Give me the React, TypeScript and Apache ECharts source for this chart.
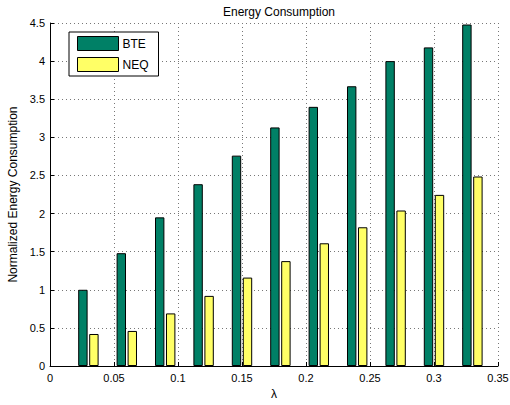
import React, { useEffect, useRef } from "react";
import * as echarts from "echarts";

const lambdas = [0.03, 0.06, 0.09, 0.12, 0.15, 0.18, 0.21, 0.24, 0.27, 0.3, 0.33];
const bte = [1.0, 1.48, 1.95, 2.385, 2.76, 3.13, 3.4, 3.67, 4.0, 4.18, 4.48];
const neq = [0.42, 0.46, 0.69, 0.92, 1.16, 1.376, 1.61, 1.82, 2.04, 2.245, 2.486];
const seriesNames = ["BTE", "NEQ"];
const FONT = "Liberation Sans, Arial, sans-serif";

export default function App() {
  const ref = useRef<HTMLDivElement>(null);
  useEffect(() => {
    const chart = echarts.init(ref.current!, null, { renderer: "svg" });
    const grid = {
      type: [1, 3] as any,
      color: "#777",
      width: 1,
    };
    chart.setOption({
      animation: false,
      backgroundColor: "#fff",
      title: {
        text: "Energy Consumption",
        left: 274,
        textAlign: "center",
        top: 1,
        textStyle: { fontFamily: FONT, fontSize: 12, fontWeight: "normal", color: "#000" },
      },
      legend: {
        orient: "vertical",
        left: 69,
        top: 32,
        padding: [4, 10, 4, 8],
        itemWidth: 41,
        itemHeight: 14,
        itemGap: 6,
        backgroundColor: "#fff",
        borderColor: "#000",
        borderWidth: 1,
        icon: "rect",
        itemStyle: { borderColor: "#000", borderWidth: 1 },
        textStyle: { fontFamily: FONT, fontSize: 12, color: "#000", padding: [0, 0, 0, -1] },
        data: seriesNames,
      },
      grid: { left: 50, right: 12, top: 23, bottom: 39, containLabel: false, outerBoundsMode: "none" },
      xAxis: {
        type: "value",
        min: 0,
        max: 0.35,
        interval: 0.05,
        name: "λ",
        nameLocation: "middle",
        nameGap: 21,
        nameTextStyle: { fontFamily: FONT, fontSize: 12, color: "#000" },
        axisLine: { show: true, lineStyle: { color: "#000", width: 1 } },
        axisTick: { show: true, inside: true, length: 4, lineStyle: { color: "#000" } },
        axisLabel: { fontFamily: FONT, fontSize: 11, color: "#000", margin: 6 },
        splitLine: { show: true, lineStyle: grid },
      },
      yAxis: {
        type: "value",
        min: 0,
        max: 4.5,
        interval: 0.5,
        name: "Normalized Energy Consumption",
        nameLocation: "middle",
        nameGap: 30,
        nameTextStyle: { fontFamily: FONT, fontSize: 12, color: "#000" },
        axisLine: { show: true, lineStyle: { color: "#000", width: 1 } },
        axisTick: { show: true, inside: true, length: 4, lineStyle: { color: "#000" } },
        axisLabel: { fontFamily: FONT, fontSize: 11, color: "#000", margin: 5 },
        splitLine: { show: true, lineStyle: grid },
      },
      series: [
        {
          name: seriesNames[0],
          type: "bar",
          barWidth: 9.4,
          barGap: "17%",
          data: lambdas.map((l, i) => [l, bte[i]]),
          itemStyle: { color: "#008066", borderColor: "#000", borderWidth: 1 },
        },
        {
          name: seriesNames[1],
          type: "bar",
          barWidth: 9.4,
          barGap: "17%",
          data: lambdas.map((l, i) => [l, neq[i]]),
          itemStyle: { color: "#ffff66", borderColor: "#000", borderWidth: 1 },
        },
      ],
    });
    return () => chart.dispose();
  }, []);
  return <div ref={ref} style={{ width: 510, height: 405, position: "absolute", left: 0, top: 0 }} />;
}
